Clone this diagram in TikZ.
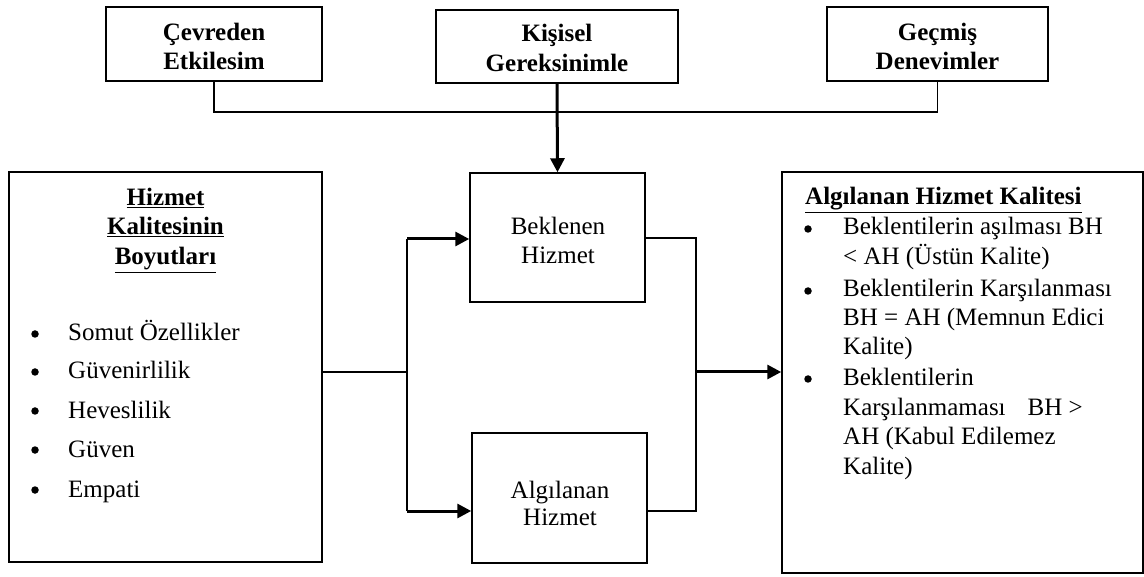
\documentclass[tikz,border=0pt]{standalone}
\usepackage{fontspec}
\setmainfont{Liberation Serif}
\usetikzlibrary{arrows.meta}
\begin{document}
\begin{tikzpicture}[x=1pt,y=-1pt,
  box/.style={draw, line width=1.5pt, inner sep=0pt, rectangle},
  txt/.style={font=\fontsize{25}{30}\selectfont, inner sep=0pt},
  btxt/.style={font=\fontsize{25}{29}\selectfont\bfseries, inner sep=0pt},
  dot/.style={circle, fill=black, inner sep=0pt, minimum size=7.5pt},
  thinln/.style={line width=1.5pt},
  thickln/.style={line width=3pt},
  arr/.style={-{Triangle[length=14pt,width=14pt]}}
]
\useasboundingbox (0,0) rectangle (1144,577);
% boxes
\node[box, minimum width=216pt, minimum height=74pt] (cev) at (214,44) {};
\node[box, minimum width=242pt, minimum height=73pt] (kis) at (557,46.5) {};
\node[box, minimum width=221pt, minimum height=74pt] (gec) at (937.5,44) {};
\node[box, minimum width=313pt, minimum height=390pt] (left) at (165.5,367) {};
\node[box, minimum width=175pt, minimum height=129pt] (bek) at (557.5,237.5) {};
\node[box, minimum width=175pt, minimum height=130pt] (alg) at (559.5,498) {};
\node[box, minimum width=361pt, minimum height=401pt] (right) at (962.5,372.5) {};
% top texts
\node[btxt, anchor=base] (cev1) at (214,41) {Çevreden};
\node[btxt, anchor=base] (cev2) at (214,70) {Etkilesim};
\node[btxt, anchor=base] (kis1) at (557,42) {Kişisel};
\node[btxt, anchor=base] (kis2) at (557,72) {Gereksinimle};
\node[btxt, anchor=base] (gec1) at (937.5,41) {Geçmiş};
\node[btxt, anchor=base] (gec2) at (937.5,70) {Denevimler};
% middle texts
\node[txt, anchor=base] (bek1) at (558,235) {Beklenen};
\node[txt, anchor=base] (bek2) at (558,264) {Hizmet};
\node[txt, anchor=base] (alg1) at (560,498) {Algılanan};
\node[txt, anchor=base] (alg2) at (560,525) {Hizmet};
% left box text
\node[btxt, anchor=base] (lt1) at (165.5,206) {\underline{Hizmet}};
\node[btxt, anchor=base] (lt2) at (165.5,235) {\underline{Kalitesinin}};
\node[btxt, anchor=base] (lt3) at (165.5,265) {\underline{Boyutları}};
\foreach \yy/\tt [count=\i] in {341/Somut Özellikler, 379/Güvenirlilik, 418/Heveslilik, 457/Güven, 497/Empati}{
  \node[dot] (lb\i) at (35,\yy-7) {};
  \node[txt, anchor=base west] (li\i) at (68,\yy) {\tt};
}
% right box text
\node[btxt, anchor=base west] (rtitle) at (805,205) {\underline{Algılanan Hizmet Kalitesi}};
\node[dot] (rb1) at (808,229) {};
\node[dot] (rb2) at (808,291) {};
\node[dot] (rb3) at (808,379) {};
\node[txt, anchor=base west] (r1a) at (843,235) {Beklentilerin aşılması BH};
\node[txt, anchor=base west] (r1b) at (843,265) {< AH (Üstün Kalite)};
\node[txt, anchor=base west] (r2a) at (843,297) {Beklentilerin Karşılanması};
\node[txt, anchor=base west] (r2b) at (843,326) {BH = AH (Memnun Edici};
\node[txt, anchor=base west] (r2c) at (843,355) {Kalite)};
\node[txt, anchor=base west] (r3a) at (843,386) {Beklentilerin};
\node[txt, anchor=base west] (r3b) at (843,416) {Karşılanmaması\hspace{22pt}BH >};
\node[txt, anchor=base west] (r3c) at (843,445) {AH (Kabul Edilemez};
\node[txt, anchor=base west] (r3d) at (843,475) {Kalite)};
% connectors top
\coordinate (topbar) at (0,112);
\draw[thinln] (cev.south) -- (cev.south |- topbar) -| (gec.south);
\draw[thickln, arr] (kis.south) -- (bek.north);
% left junction
\coordinate (jm) at (407,372);
\coordinate (jt) at (407,239);
\coordinate (jb) at (407,511);
\draw[thinln] (left.east |- jm) -- (jm);
\draw[thinln] (jt) -- (jb);
\draw[thickln, arr] (jt) -- (bek.west |- jt);
\draw[thickln, arr] (jb) -- (alg.west |- jb);
% right junction
\coordinate (rt) at (696,238);
\coordinate (rm) at (696,372);
\coordinate (rbt) at (696,511);
\draw[thinln] (bek.east |- rt) -- (rt) -- (rbt) -- (alg.east |- rbt);
\draw[thickln, arr] (rm) -- (right.west |- rm);
\end{tikzpicture}
\end{document}
